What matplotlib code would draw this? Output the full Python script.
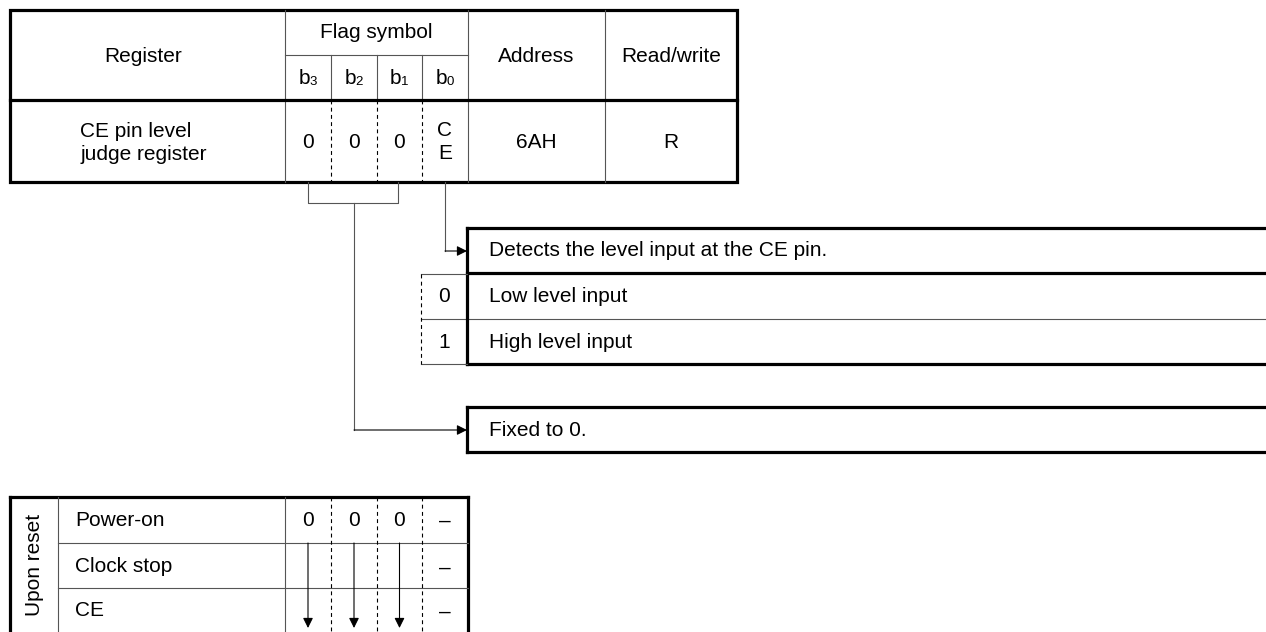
import matplotlib.pyplot as plt

# table content
header_cols = ['Register', 'Address', 'Read/write']
flag_title = 'Flag symbol'
bit_names = ['3', '2', '1', '0']
register_name = 'CE pin level\njudge register'
register_bits = ['0', '0', '0', 'C\nE']
address = '6AH'
access = 'R'

desc_title = 'Detects the level input at the CE pin.'
desc_values = ['0', '1']
desc_texts = ['Low level input', 'High level input']
fixed_text = 'Fixed to 0.'

reset_title = 'Upon reset'
reset_rows = ['Power-on', 'Clock stop', 'CE']
reset_first = ['0', '0', '0', '–']
reset_rest = ['–', '–']

FONT = 'Liberation Sans'
FS = 15
THICK = 2.3
THIN = 0.8
GREY = '#555555'
DASH = (0, (3.5, 3))

fig = plt.figure(figsize=(12.66, 6.32), dpi=100)
ax = fig.add_axes([0, 0, 1, 1])
ax.set_xlim(0, 1266)
ax.set_ylim(632, 0)
ax.axis('off')


def line(xs, ys, lw=THIN, color=GREY, ls='-'):
    ax.plot(xs, ys, color=color, lw=lw, ls=ls, solid_capstyle='projecting')


def txt(x, y, s, ha='center', fs=FS, **kw):
    ax.text(x, y, s, ha=ha, va='center', fontsize=fs, family=FONT, **kw)


def arrow(x0, y0, x1, y1):
    ax.annotate('', xy=(x1, y1), xytext=(x0, y0),
                arrowprops=dict(arrowstyle='-|>', color='black', lw=THIN,
                                mutation_scale=15, shrinkA=0, shrinkB=0))


# column edges
x_reg = (10, 285)
x_bits = [285, 331, 377, 422, 468]
x_addr = (468, 605)
x_rw = (605, 737)
bit_cx = [(x_bits[i] + x_bits[i + 1]) / 2 for i in range(4)]

# ---- top register table ----
y_top, y_sub, y_mid, y_bot = 10, 55, 100, 182
line([x_reg[1], x_reg[1]], [y_top, y_bot])
line([x_addr[0], x_addr[0]], [y_top, y_bot])
line([x_rw[0], x_rw[0]], [y_top, y_bot])
line([x_bits[0], x_bits[-1]], [y_sub, y_sub])
for x in x_bits[1:-1]:
    line([x, x], [y_sub, y_mid])
    line([x, x], [y_mid, y_bot], ls=DASH, color='black')
line([x_reg[0], x_rw[1]], [y_mid, y_mid], lw=THICK, color='black')
ax.add_patch(plt.Rectangle((x_reg[0], y_top), x_rw[1] - x_reg[0], y_bot - y_top,
                           fill=False, lw=THICK, ec='black'))

txt(sum(x_reg) / 2 - 4, 56, header_cols[0])
txt((x_bits[0] + x_bits[-1]) / 2, 32, flag_title)
for cx, b in zip(bit_cx, bit_names):
    txt(cx - 4, 79, 'b')
    txt(cx + 5, 82, b, fs=9.5)
txt(sum(x_addr) / 2, 56, header_cols[1])
txt(sum(x_rw) / 2, 56, header_cols[2])

txt(sum(x_reg) / 2 - 4, 143, register_name, multialignment='left', linespacing=1.25)
for cx, v in zip(bit_cx, register_bits):
    txt(cx, 142, v, linespacing=1.3)
txt(sum(x_addr) / 2, 142, address)
txt(sum(x_rw) / 2, 142, access)

# ---- connectors ----
line([308, 308, 398, 398], [y_bot, 203, 203, y_bot])
line([354, 354], [203, 430])
arrow(354, 430, 467, 430)
line([445, 445], [y_bot, 251])
arrow(445, 251, 467, 251)

# ---- description boxes ----
bx = 467
line([bx, 1270], [228, 228], lw=THICK, color='black')
line([bx, 1270], [273, 273], lw=THICK, color='black')
line([421, 1270], [319, 319])
line([bx, 1270], [364, 364], lw=THICK, color='black')
line([bx, bx], [228, 364], lw=THICK, color='black')
line([421, bx], [274, 274])
line([421, bx], [364, 364])
line([421, 421], [274, 364], ls=DASH, color='black')
txt(489, 251, desc_title, ha='left')
for y, v, t in zip([297, 342], desc_values, desc_texts):
    txt(444, y, v)
    txt(489, y, t, ha='left')

line([bx, 1270], [407, 407], lw=THICK, color='black')
line([bx, 1270], [452, 452], lw=THICK, color='black')
line([bx, bx], [407, 452], lw=THICK, color='black')
txt(489, 430, fixed_text, ha='left')

# ---- reset table ----
r_top = 497
r_lines = [543, 588]
line([10, 10], [r_top, 640], lw=THICK, color='black')
line([x_bits[-1], x_bits[-1]], [r_top, 640], lw=THICK, color='black')
line([10, x_bits[-1]], [r_top, r_top], lw=THICK, color='black')
line([58, 58], [r_top, 640])
line([285, 285], [r_top, 640])
for y in r_lines:
    line([58, x_bits[-1]], [y, y])
for x in x_bits[1:-1]:
    line([x, x], [r_top, 640], ls=DASH, color='black')
txt(34, 565, reset_title, rotation=90)
for y, name in zip([521, 566, 610], reset_rows):
    txt(75, y, name, ha='left')
for cx, v in zip(bit_cx, reset_first):
    txt(cx, 521, v)
for y, v in zip([568, 612], reset_rest):
    txt(bit_cx[3], y, v)
for cx in bit_cx[:3]:
    arrow(cx, 543, cx, 628)

fig.savefig('out.png', dpi=100)
